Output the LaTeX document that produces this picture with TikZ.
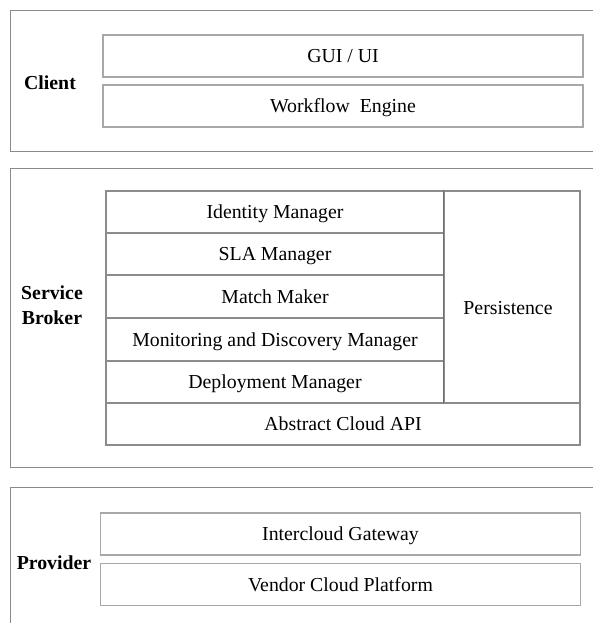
\documentclass[tikz,border=0pt]{standalone}
\usepackage{fontspec}
\setmainfont{Liberation Serif}
\definecolor{framegray}{HTML}{8A8A8A}
\definecolor{boxgray}{HTML}{A8A8A8}
\definecolor{gridgray}{HTML}{8C8C8C}
\definecolor{splitgray}{HTML}{6E6E6E}
\begin{document}
\begin{tikzpicture}[x=1pt,y=-1pt,
  every node/.style={font=\fontsize{19.8}{25}\selectfont, inner sep=0pt, text height=13pt, text depth=0pt},
  frame/.style={draw=framegray, line width=1.2pt},
  layerbox/.style={draw=boxgray, line width=1.2pt, rectangle, minimum height=42pt},
  cellbox/.style={draw=gridgray, line width=1.2pt, rectangle},
  tierlabel/.style={font=\fontsize{19.8}{25}\selectfont\bfseries, align=center, text height=, text depth=}]
\useasboundingbox (0,0) rectangle (593,623);
% outer frames
\draw[frame] (600,10.5) -- (10.5,10.5) -- (10.5,151.5) -- (600,151.5);
\draw[frame] (600,168.5) -- (10.5,168.5) -- (10.5,467.3) -- (600,467.3);
\draw[frame] (600,487.7) -- (10.5,487.7) -- (10.5,630);
% client
\node[tierlabel] (client) at (50,83) {Client};
\node[layerbox, minimum width=480pt] (gui) at (343,56) {GUI / UI};
\node[layerbox, minimum width=480pt] (wf) at (343,106) {Workflow\ \ Engine};
% service broker
\node[tierlabel] (sb) at (52,305.5) {Service\\Broker};
\node[cellbox, minimum width=338pt, minimum height=42pt] (idm) at (275,212) {Identity Manager};
\node[cellbox, minimum width=338pt, minimum height=42pt] (sla) at (275,254) {SLA Manager};
\node[cellbox, minimum width=338pt, minimum height=43pt] (mm) at (275,296.5) {Match Maker};
\node[cellbox, minimum width=338pt, minimum height=43pt] (mdm) at (275,339.5) {Monitoring and Discovery Manager};
\node[cellbox, minimum width=338pt, minimum height=42pt] (dm) at (275,382) {Deployment Manager};
\node[cellbox, minimum width=136pt, minimum height=212pt] (pers) at (512,297) {};
\node (perslabel) at (508,308) {Persistence};
\node[cellbox, minimum width=474pt, minimum height=42pt] (aca) at (343,424) {Abstract Cloud API};
\draw[splitgray, line width=1.2pt] (pers.north west) -- (pers.south west);
% provider
\node[tierlabel] (prov) at (54,563) {Provider};
\node[layerbox, minimum width=480pt] (icg) at (340.5,534) {Intercloud Gateway};
\node[layerbox, minimum width=480pt] (vcp) at (340.5,584.5) {Vendor Cloud Platform};
\end{tikzpicture}
\end{document}
